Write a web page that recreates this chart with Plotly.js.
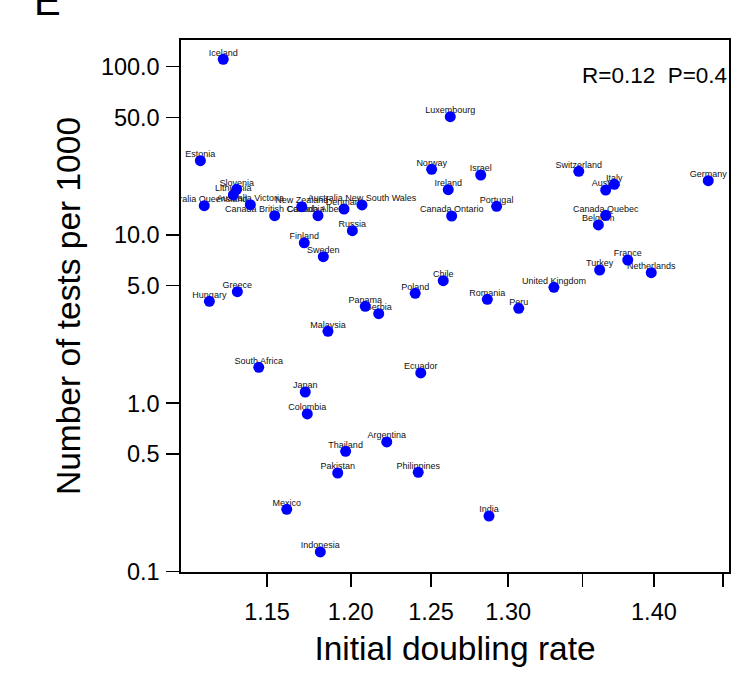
<!DOCTYPE html>
<html>
<head>
<meta charset="utf-8">
<script src="https://cdn.plot.ly/plotly-3.0.1.min.js"></script>
<style>html,body{margin:0;padding:0;background:#fff;}#chart{width:739px;height:683px;}</style>
</head>
<body>
<div id="chart"></div>
<script>
// Data (x = initial doubling rate, y = tests per 1000)
const countries = ["Iceland","Estonia","Australia Queensland","Slovenia","Lithuania","Australia Victoria",
  "Canada British Columbia","New Zealand","Canada Alberta","Denmark","Australia New South Wales","Russia",
  "Finland","Sweden","Luxembourg","Norway","Israel","Ireland","Portugal","Canada Ontario","Switzerland",
  "Italy","Austria","Germany","Canada Quebec","Belgium","Greece","Hungary","Panama","Serbia","Malaysia",
  "Poland","Chile","Romania","Peru","United Kingdom","Turkey","France","Netherlands","South Africa",
  "Ecuador","Japan","Colombia","Argentina","Thailand","Pakistan","Philippines","Mexico","Indonesia","India"];
const doublingRate = [1.1247,1.1117,1.1139,1.1324,1.1305,1.1403,
  1.1545,1.1705,1.1802,1.1959,1.2069,1.2010,
  1.1720,1.1834,1.2623,1.2504,1.2820,1.2610,1.2924,1.2632,1.3475,
  1.3721,1.3661,1.4392,1.3661,1.3610,1.1328,1.1168,1.2089,1.2172,1.1862,
  1.2400,1.2578,1.2863,1.3070,1.3306,1.3619,1.3815,1.3981,1.1452,
  1.2435,1.1726,1.1738,1.2222,1.1969,1.1921,1.2419,1.1616,1.1816,1.2874];
const testsPer1000 = [110.7,27.64,14.94,18.69,17.29,15.14,
  13.02,14.73,13.02,14.27,15.08,10.61,
  8.99,7.43,50.46,24.57,22.72,18.58,14.81,12.97,23.90,
  20.01,18.51,21.02,13.09,11.47,4.603,4.037,3.770,3.407,2.678,
  4.503,5.351,4.150,3.668,4.891,6.194,7.103,5.970,1.636,
  1.514,1.167,0.864,0.589,0.5186,0.3854,0.389,0.2346,0.1308,0.2139];

const xTickVals = [1.15,1.20,1.25,1.30,1.35,1.40,1.45];
const xTickText = ["1.15","1.20","1.25","1.30","","1.40",""];
const yTickVals = [0.1,0.5,1,5,10,50,100];
const yTickText = ["0.1","0.5","1.0","5.0","10.0","50.0","100.0"];
const statText = "R=0.12\u00a0 P=0.4";
const panelLetter = "E";

const FONT = "Liberation Sans, Arial, Helvetica, sans-serif";

const labelTrace = {
  x: doublingRate, y: testsPer1000, text: countries,
  type: "scatter", mode: "text",
  texttemplate: "%{text}<br> ",
  textposition: "middle center",
  textfont: {family: FONT, size: 9, color: "#111"},
  cliponaxis: true, hoverinfo: "skip", showlegend: false
};
const pointTrace = {
  x: doublingRate, y: testsPer1000, text: countries,
  type: "scatter", mode: "markers",
  marker: {color: "#0000FF", size: 11, line: {width: 0}},
  cliponaxis: true, showlegend: false
};

const axisCommon = {
  showline: true, mirror: true, linecolor: "#000", linewidth: 1.6,
  ticks: "outside", ticklen: 13, tickwidth: 1.6, tickcolor: "#000",
  showgrid: false, zeroline: false, automargin: false,
  tickfont: {family: FONT, size: 23.5, color: "#000"}
};

const layout = {
  width: 739, height: 683,
  margin: {l: 181, r: 10, t: 40, b: 111},
  paper_bgcolor: "#fff", plot_bgcolor: "#fff",
  showlegend: false,
  xaxis: Object.assign({}, axisCommon, {
    type: "log", range: [0.041710, 0.162703],
    tickmode: "array", tickvals: xTickVals, ticktext: xTickText,
    ticklabelstandoff: 5,
    title: {text: "Initial doubling rate", font: {family: FONT, size: 33.5, color: "#000"}, standoff: 13}
  }),
  yaxis: Object.assign({}, axisCommon, {
    type: "log", range: [-1.0024, 2.1586],
    tickmode: "array", tickvals: yTickVals, ticktext: yTickText,
    ticklabelstandoff: 2,
    title: {text: "Number of tests per 1000", font: {family: FONT, size: 33.5, color: "#000"}, standoff: 10}
  }),
  annotations: [
    {xref: "paper", yref: "paper", x: 1.0, y: 0.934, xanchor: "right", yanchor: "middle",
     text: statText, showarrow: false, font: {family: FONT, size: 22.5, color: "#000"}},
    {xref: "paper", yref: "paper", x: -0.2440, y: 1.0733, xanchor: "center", yanchor: "middle",
     text: panelLetter, showarrow: false, font: {family: FONT, size: 40, color: "#000"}}
  ]
};

Plotly.newPlot("chart", [labelTrace, pointTrace], layout, {staticPlot: true, displayModeBar: false});
</script>
</body>
</html>
